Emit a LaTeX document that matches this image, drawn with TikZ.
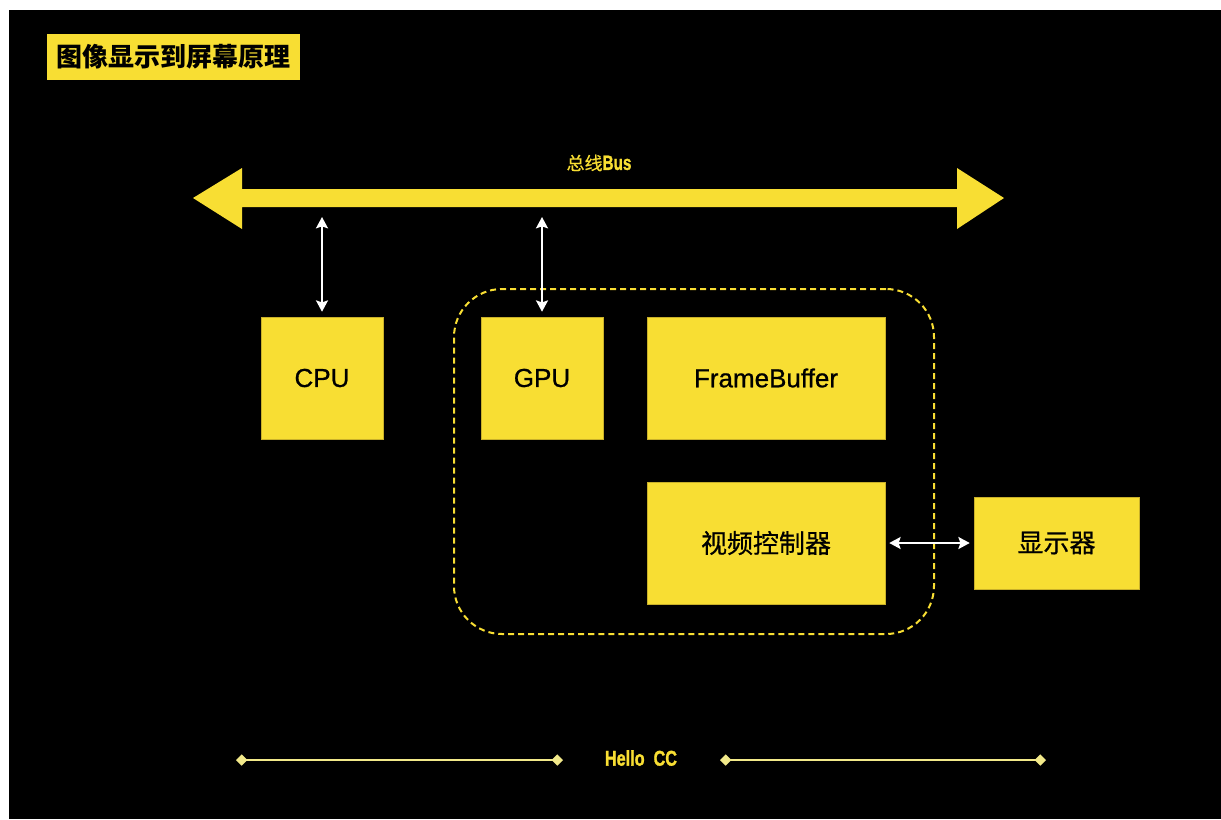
\documentclass[tikz,border=0pt]{standalone}
\usepackage{fontspec}
\setmainfont{Liberation Sans}
\newfontfamily\cjk{Noto Sans CJK SC}
\newfontfamily\cjkmid[FakeBold=0.6]{Noto Sans CJK SC}
\newfontfamily\latinmid[FakeBold=0.8]{Liberation Sans}
\newfontfamily\heavy[FakeBold=1.6]{Liberation Sans Bold}
\usetikzlibrary{arrows.meta}
\definecolor{busyellow}{HTML}{F8DE33}
\definecolor{boxedge}{HTML}{C9B02A}
\definecolor{paleline}{HTML}{F2E98A}
\tikzset{
  unitbox/.style={fill=busyellow, draw=boxedge, line width=0.4pt, inner sep=0pt,
    font=\latinmid\fontsize{19.5pt}{22pt}\selectfont, text=black},
  cjkbox/.style={unitbox, font=\cjkmid\fontsize{19.5pt}{22pt}\selectfont},
  link/.style={draw=white, line width=1.5pt,
    {Stealth[length=8.5pt,width=9pt,inset=1.5pt]}-{Stealth[length=8.5pt,width=9pt,inset=1.5pt]}},
  gpuzone/.style={draw=busyellow, line width=1.5pt, dash pattern=on 4.5pt off 3pt,
    rounded corners=36pt, inner sep=0pt},
  footline/.style={draw=paleline, line width=1.5pt,
    {Diamond[length=8.5pt,width=8.5pt]}-{Diamond[length=8.5pt,width=8.5pt]}},
  condensed/.style={text=busyellow, inner sep=0pt}
}
\begin{document}
\begin{tikzpicture}[x=0.75pt,y=-0.75pt]
  % page: white margin on the top and left, black canvas
  \fill[white] (0,0) rectangle (1221,819);
  \fill[black] (9,10) rectangle (1221,819);
  \useasboundingbox (0,0) rectangle (1221,819);

  % heading tag
  \node[fill=busyellow, minimum width=189.75pt, minimum height=34.5pt, inner sep=0pt,
        font=\cjk\bfseries\fontsize{19.5pt}{22pt}\selectfont]
        (title) at (173.5,57) {图像显示到屏幕原理};

  % system bus
  \fill[busyellow] (193,198) -- (242,168) -- (242,189) -- (957,189) -- (957,168)
    -- (1004,198) -- (957,229) -- (957,207) -- (242,207) -- (242,229) -- cycle;
  \node[condensed] (buslabel) at (599,163)
    {{\cjkmid\fontsize{13.5pt}{15pt}\selectfont 总线}\scalebox{0.74}[1]{\heavy\fontsize{15.5pt}{16pt}\selectfont Bus}};
  \coordinate (cpuport) at (322,217);
  \coordinate (gpuport) at (542,217);

  % GPU side container
  \node[gpuzone, minimum width=360pt, minimum height=258.75pt] (zone) at (694,461.5) {};

  % processing units
  \node[unitbox, minimum width=91.5pt, minimum height=91.5pt] (cpu) at (322,378) {CPU};
  \node[unitbox, minimum width=91.5pt, minimum height=91.5pt] (gpu) at (542,378) {GPU};
  \node[unitbox, minimum width=178.5pt, minimum height=91.5pt] (fb) at (766,378) {FrameBuffer};
  \node[cjkbox, minimum width=178.5pt, minimum height=91.5pt] (vc) at (766,543) {视频控制器};
  \node[cjkbox, minimum width=123.75pt, minimum height=69pt] (disp) at (1056.5,543) {显示器};

  % links
  \draw[link] (cpuport) -- ([yshift=3.75pt]cpu.north);
  \draw[link] (gpuport) -- ([yshift=3.75pt]gpu.north);
  \draw[link] ([xshift=3pt]vc.east) -- ([xshift=-3pt]disp.west);

  % footer
  \node[condensed] (hello) at (641,758)
    {\scalebox{0.76}[1]{\heavy\fontsize{16pt}{17pt}\selectfont Hello\ \ CC}};
  \coordinate (fl1) at (236,760);
  \coordinate (fl2) at (563,760);
  \coordinate (fr1) at (720,760);
  \coordinate (fr2) at (1046,760);
  \draw[footline] (fl1) -- (fl2);
  \draw[footline] (fr1) -- (fr2);
\end{tikzpicture}
\end{document}
